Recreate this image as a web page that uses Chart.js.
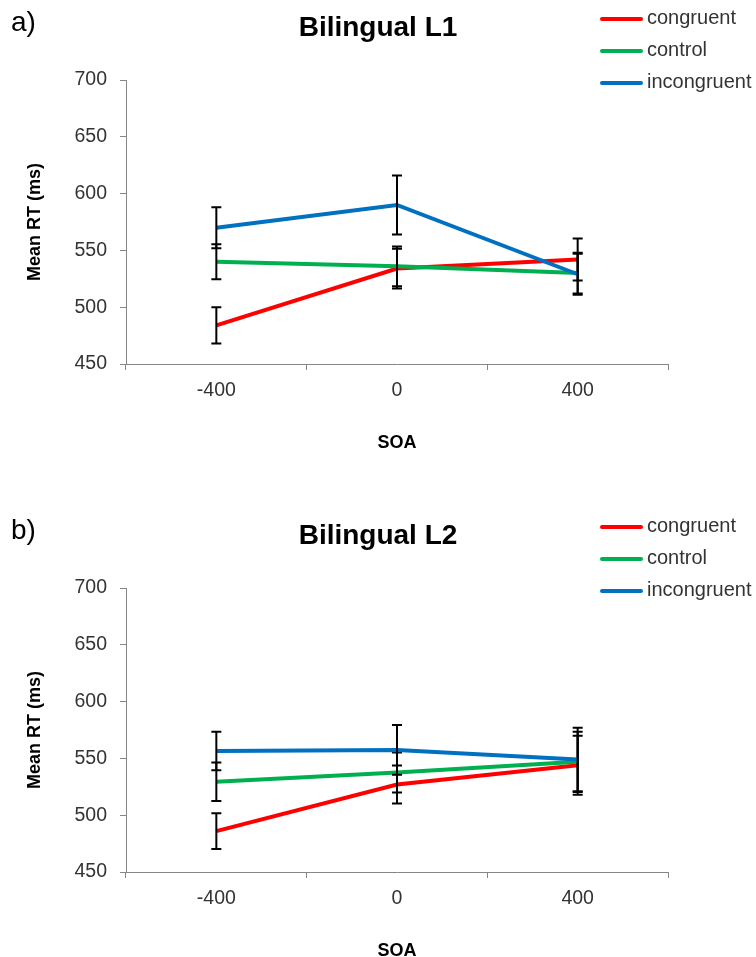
<!DOCTYPE html>
<html>
<head>
<meta charset="utf-8">
<script src="https://cdn.jsdelivr.net/npm/chart.js@4.4.1/dist/chart.umd.min.js"></script>
<style>
  body { margin: 0; background: #fff; }
  .panel { position: absolute; left: 0; width: 756px; height: 480px; }
</style>
</head>
<body>
<div class="panel" style="top:0"><canvas id="chart-l1" width="756" height="480"></canvas></div>
<div class="panel" style="top:508px"><canvas id="chart-l2" width="756" height="480"></canvas></div>
<script>
// ---- data ----
const soaLabels = ['-400', '0', '400'];
const seriesNames = ['congruent', 'control', 'incongruent'];
const seriesColors = ['#ff0000', '#00b050', '#0070c0'];
const yTicks = [450, 500, 550, 600, 650, 700];

// Bilingual L1
const l1Congruent = [484, 534, 542];
const l1Control = [540, 536, 530];
const l1Incongruent = [570, 590, 529];
const l1CongruentErr = [16, 17.5, 18.5];
const l1ControlErr = [15.5, 17.5, 18];
const l1IncongruentErr = [18, 26, 18];

// Bilingual L2
const l2Congruent = [486, 527, 544];
const l2Control = [529.5, 537.5, 547];
const l2Incongruent = [556.5, 557.5, 549];
const l2CongruentErr = [15.7, 16.8, 26];
const l2ControlErr = [17, 17.6, 26.5];
const l2IncongruentErr = [17, 22, 28];

Chart.defaults.font.family = '"Liberation Sans", Arial, sans-serif';
Chart.defaults.color = '#333';

// ---- error bars, drawn right after each series (Excel-like stacking) ----
const errorBars = {
  id: 'errorBars',
  afterDatasetDraw(chart, args) {
    const ds = chart.data.datasets[args.index];
    if (!ds.errors) return;
    const yScale = chart.scales.y;
    const ctx = chart.ctx;
    ctx.save();
    ctx.strokeStyle = '#000';
    ctx.lineWidth = 2;
    args.meta.data.forEach((pt, i) => {
      const v = ds.data[i];
      const e = ds.errors[i];
      const top = yScale.getPixelForValue(v + e);
      const bot = yScale.getPixelForValue(v - e);
      ctx.beginPath();
      ctx.moveTo(pt.x, top); ctx.lineTo(pt.x, bot);
      ctx.moveTo(pt.x - 5, top); ctx.lineTo(pt.x + 5, top);
      ctx.moveTo(pt.x - 5, bot); ctx.lineTo(pt.x + 5, bot);
      ctx.stroke();
    });
    ctx.restore();
  },
};

// ---- legend at top right + panel letter ----
const sideLegend = {
  id: 'sideLegend',
  afterDraw(chart, args, opts) {
    const ctx = chart.ctx;
    ctx.save();
    ctx.lineCap = 'round';
    chart.data.datasets.forEach((ds, i) => {
      const y = opts.top + i * opts.gap;
      ctx.strokeStyle = ds.borderColor;
      ctx.lineWidth = 4;
      ctx.beginPath();
      ctx.moveTo(opts.x + 2, y);
      ctx.lineTo(opts.x + 41, y);
      ctx.stroke();
      ctx.fillStyle = '#333';
      ctx.font = '20px "Liberation Sans", Arial, sans-serif';
      ctx.textBaseline = 'alphabetic';
      ctx.fillText(ds.label, opts.x + 47, y + 5);
    });
    ctx.fillStyle = '#000';
    ctx.font = '28px "Liberation Sans", Arial, sans-serif';
    ctx.textBaseline = 'middle';
    ctx.fillText(opts.panel, 11, 23);
    ctx.restore();
  },
};

function makeChart(id, panel, title, values, errors) {
  const datasets = seriesNames.map((name, i) => ({
    label: name,
    data: values[i],
    errors: errors[i],
    borderColor: seriesColors[i],
    backgroundColor: seriesColors[i],
    borderWidth: 4,
    pointRadius: 0,
    tension: 0,
    order: seriesNames.length - i,
  }));

  return new Chart(document.getElementById(id), {
    type: 'line',
    data: { labels: soaLabels, datasets },
    plugins: [errorBars, sideLegend],
    options: {
      responsive: false,
      animation: false,
      layout: { padding: 0 },
      plugins: {
        legend: { display: false },
        tooltip: { enabled: false },
        title: {
          display: true,
          text: title,
          color: '#000',
          font: { size: 28, weight: 'bold' },
          padding: { top: 11, bottom: 35.4 },
        },
        sideLegend: { x: 600, top: 19, gap: 32, panel },
      },
      scales: {
        x: {
          type: 'category',
          offset: true,
          grid: { offset: true, drawOnChartArea: false, tickLength: 6, color: '#868686' },
          border: { color: '#868686' },
          ticks: { font: { size: 19.5 }, padding: 9, color: '#333' },
          title: { display: true, text: 'SOA', color: '#000', font: { size: 18, weight: 'bold' }, padding: { top: 0, bottom: 26.5 } },
          afterFit: (s) => { s.height = 116; },
        },
        y: {
          min: 450,
          max: 700,
          afterBuildTicks: (s) => { s.ticks = yTicks.map((v) => ({ value: v })); },
          grid: { drawOnChartArea: false, tickLength: 6, color: '#868686' },
          border: { color: '#868686' },
          ticks: { font: { size: 19.5 }, padding: 13, color: '#333' },
          title: { display: true, text: 'Mean RT (ms)', color: '#000', font: { size: 18, weight: 'bold' }, padding: { top: 24.2, bottom: 0 } },
          afterFit: (s) => { s.width = 126; },
        },
        // empty right gutter so the title centres on the full width
        yRight: {
          position: 'right',
          display: true,
          grid: { display: false },
          border: { display: false },
          ticks: { display: false },
          afterFit: (s) => { s.width = 88; },
        },
      },
    },
  });
}

makeChart('chart-l1', 'a)', 'Bilingual L1',
  [l1Congruent, l1Control, l1Incongruent],
  [l1CongruentErr, l1ControlErr, l1IncongruentErr]);

makeChart('chart-l2', 'b)', 'Bilingual L2',
  [l2Congruent, l2Control, l2Incongruent],
  [l2CongruentErr, l2ControlErr, l2IncongruentErr]);
</script>
</body>
</html>
